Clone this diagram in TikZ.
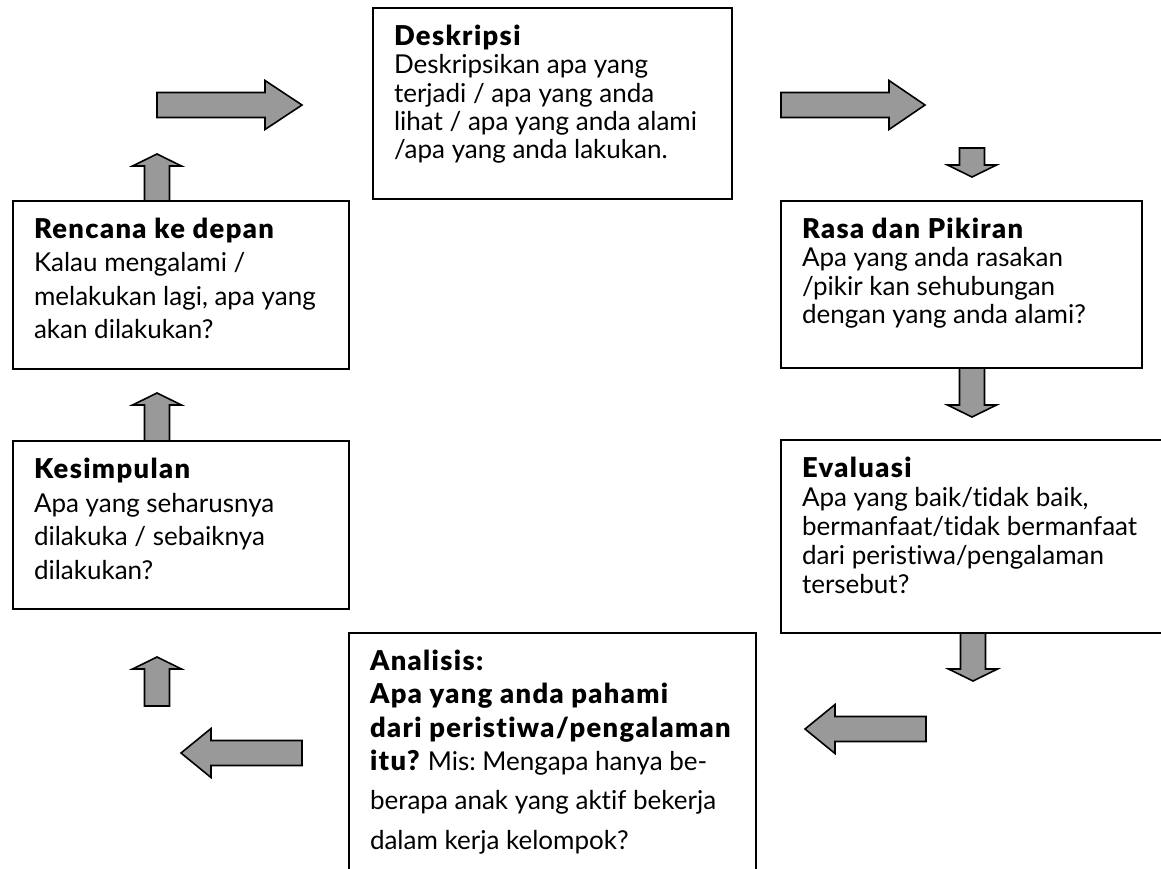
\documentclass[tikz,border=0pt]{standalone}
\usepackage{fontspec}
\setmainfont{Lato}[Ligatures=NoCommon, BoldFont={Lato Black}, BoldFeatures={Scale=1.05, LetterSpace=5}]
\usepackage{tikz}
\usetikzlibrary{positioning,calc}

\definecolor{arrowgray}{RGB}{153,153,153}
\newcommand{\topstrut}{\rule{0pt}{18pt}}
\newcommand{\stagetext}[4]{\parbox[t][#1pt][t]{#2pt}{\fontsize{26}{#3}\selectfont\frenchspacing\raggedright\topstrut #4}}

\tikzset{
    stagebox/.style={draw, line width=1.6pt, anchor=north west, inner xsep=21pt, inner ysep=17pt, outer sep=0pt},
    arrowfill/.style={draw, line width=1.6pt, fill=arrowgray, line join=miter},
    pics/blockarrow/.style 2 args={code={
        \draw[arrowfill] (0,-12.5) -- (#1,-12.5) -- (#1,-24.5) -- ({#1+#2},0) -- (#1,24.5) -- (#1,12.5) -- (0,12.5) -- cycle;
    }}
}

\begin{document}
\begin{tikzpicture}[x=1pt, y=-1pt]
    \useasboundingbox (0,0) rectangle (1161,868);
    \clip (0,0) rectangle (1161,868);

    % Stages
    \node[stagebox] (deskripsi) at (373,8) {\stagetext{157}{317}{28.3}{\textbf{Deskripsi}\\
        Deskripsikan apa yang\\ terjadi / apa yang anda\\ lihat / apa yang anda alami\\ /apa yang anda lakukan.}};
    \node[stagebox] (rasa) at (781,201) {\stagetext{133}{319}{28.3}{\textbf{Rasa dan Pikiran}\\
        Apa yang anda rasakan\\ /pikir kan sehubungan\\ dengan yang anda alami?}};
    \node[stagebox] (evaluasi) at (781,440) {\stagetext{159}{343}{29}{\textbf{Evaluasi}\\
        Apa yang baik/tidak baik,\\ bermanfaat/tidak bermanfaat\\ dari peristiwa/pengalaman\\ tersebut?}};
    \node[stagebox] (analisis) at (349,633) {\stagetext{223}{365}{33.3}{\textbf{Analisis:}\\
        \textbf{Apa yang anda pahami}\\ \textbf{dari peristiwa/pengalaman}\\
        \textbf{itu?} Mis: Mengapa hanya be-\\[6pt] berapa anak yang aktif bekerja\\[6pt] dalam kerja kelompok?}};
    \node[stagebox] (kesimpulan) at (13,441) {\stagetext{134}{294}{33.5}{\textbf{Kesimpulan}\\
        Apa yang seharusnya\\ dilakuka / sebaiknya\\ dilakukan?}};
    \node[stagebox] (rencana) at (13,201) {\stagetext{134}{294}{33.5}{\textbf{Rencana ke depan}\\
        Kalau mengalami /\\ melakukan lagi, apa yang\\ akan dilakukan?}};

    % Block arrows
    \pic at (157,105) {blockarrow={108}{37}};
    \pic at (781,105) {blockarrow={108}{36}};
    \pic[rotate=-90] at (972,148) {blockarrow={17}{12}};
    \pic[rotate=-90] at (972,368) {blockarrow={37}{12}};
    \pic[rotate=-90] at (973,633) {blockarrow={36}{12}};
    \pic[rotate=180] at (926,729) {blockarrow={91}{30}};
    \pic[rotate=180] at (302,753) {blockarrow={91}{30}};
    \foreach \y/\l in {201/35, 441/36, 706/37} {
        \pic[rotate=90] at (157,\y) {blockarrow={\l}{12}};
    }
\end{tikzpicture}
\end{document}
